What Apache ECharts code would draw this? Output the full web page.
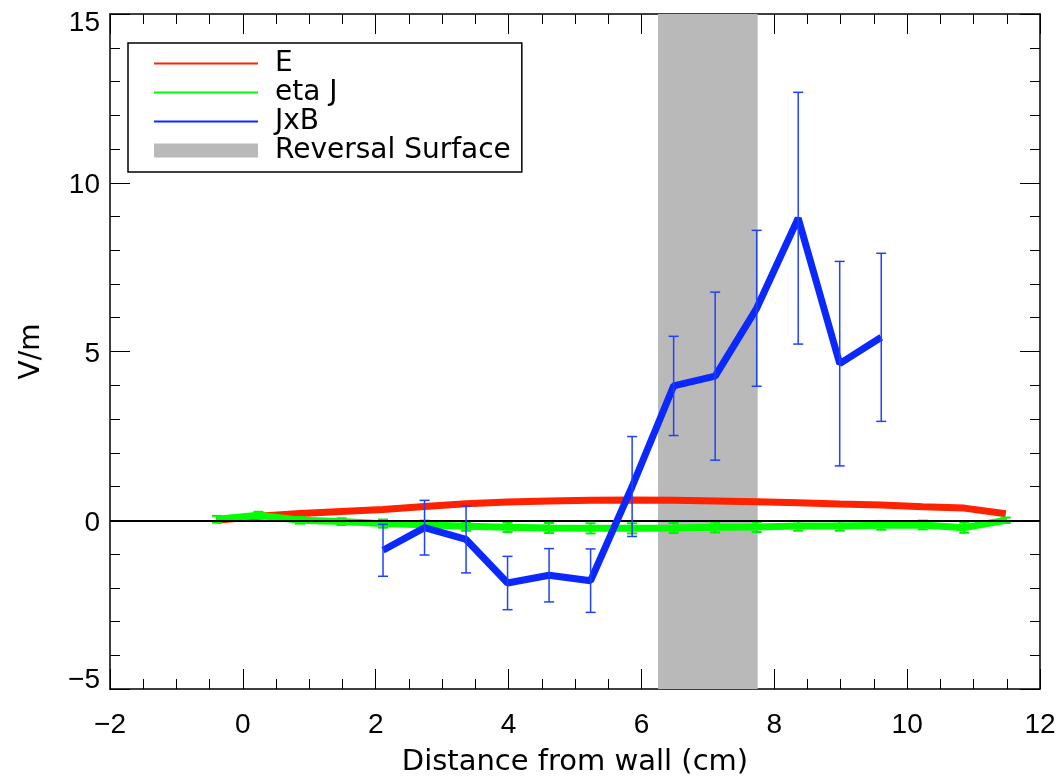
<!DOCTYPE html>
<html>
<head>
<meta charset="utf-8">
<script src="https://cdn.jsdelivr.net/npm/echarts@6/dist/echarts.min.js"></script>
<style>html,body{margin:0;padding:0;background:#fff}#c{width:1059px;height:778px}</style>
</head>
<body>
<div id="c"></div>
<script>
// ---- data ----
const xPos = [-0.39, 0.235, 0.86, 1.485, 2.11, 2.735, 3.36, 3.985, 4.61, 5.235, 5.86, 6.485, 7.11, 7.735, 8.36, 8.985, 9.61, 10.235, 10.86, 11.485];
const eField = [0.0, 0.12, 0.2, 0.26, 0.32, 0.41, 0.49, 0.54, 0.57, 0.59, 0.6, 0.59, 0.57, 0.55, 0.52, 0.48, 0.45, 0.40, 0.36, 0.19];
const etaJ = [0.03, 0.15, 0.0, -0.04, -0.1, -0.13, -0.18, -0.21, -0.23, -0.24, -0.24, -0.23, -0.21, -0.2, -0.17, -0.17, -0.15, -0.14, -0.22, 0.0];
const etaJErr = [0.1, 0.1, 0.1, 0.1, 0.12, 0.12, 0.13, 0.14, 0.15, 0.15, 0.15, 0.15, 0.15, 0.15, 0.14, 0.14, 0.13, 0.13, 0.15, 0.08];
const jxbX = [2.11, 2.735, 3.36, 3.985, 4.61, 5.235, 5.86, 6.485, 7.11, 7.735, 8.36, 8.985, 9.61];
const jxb = [-0.89, -0.22, -0.57, -1.86, -1.63, -1.79, 1.0, 3.98, 4.27, 6.28, 8.95, 4.64, 5.42];
const jxbErr = [0.77, 0.81, 0.99, 0.79, 0.79, 0.94, 1.48, 1.47, 2.49, 2.31, 3.73, 3.03, 2.49];
const reversal = [6.25, 7.75];
const xTicks = {min: -2, max: 12, interval: 2};
const yTicks = {min: -5, max: 15, interval: 5};

const FONT = "'DejaVu Sans'";
const DIGITS = "'Liberation Sans'";
const minus = v => String(v).replace('-', '\u2212');

const ePts = xPos.map((x, i) => [x, eField[i]]);
const gPts = xPos.map((x, i) => [x, etaJ[i]]);
const gErr = xPos.map((x, i) => [x, etaJ[i] - etaJErr[i], etaJ[i] + etaJErr[i]]);
const bPts = jxbX.map((x, i) => [x, jxb[i]]);
const bErr = jxbX.map((x, i) => [x, jxb[i] - jxbErr[i], jxb[i] + jxbErr[i]]);

function errRender(color, w) {
  return function (params, api) {
    const x = api.value(0), lo = api.value(1), hi = api.value(2);
    const p1 = api.coord([x, lo]), p2 = api.coord([x, hi]);
    const hw = 5;
    const st = {stroke: color, lineWidth: w};
    return {type: 'group', children: [
      {type: 'line', shape: {x1: p1[0], y1: p1[1], x2: p2[0], y2: p2[1]}, style: st},
      {type: 'line', shape: {x1: p1[0] - hw, y1: p1[1], x2: p1[0] + hw, y2: p1[1]}, style: st},
      {type: 'line', shape: {x1: p2[0] - hw, y1: p2[1], x2: p2[0] + hw, y2: p2[1]}, style: st}
    ]};
  };
}

const axisLine = {onZero: false, lineStyle: {color: '#000', width: 1.5}};
const axisTick = {inside: true, length: 20, lineStyle: {color: '#000', width: 1}};
const minorTick = n => ({show: true, splitNumber: n, length: 10, lineStyle: {color: '#000', width: 1}});

// y labels: IDL nudges the end labels inward
function yFmt(v) {
  const s = minus(v);
  if (v === yTicks.max) return '{dn|' + s + '}';
  if (v === yTicks.min) return '{up|' + s + '}';
  return '{mid|' + s + '}';
}
const digitStyle = {color: '#000', fontFamily: DIGITS, fontSize: 28};

const chart = echarts.init(document.getElementById('c'));
chart.setOption({
  animation: false,
  backgroundColor: '#fff',
  grid: {left: 110, right: 19, top: 14, bottom: 89, containLabel: false, outerBoundsMode: 'none'},
  legend: {
    left: 128, top: 43, orient: 'vertical',
    backgroundColor: '#fff', borderColor: '#000', borderWidth: 1.5,
    padding: [6, 11, 7, 26],
    itemWidth: 104, itemHeight: 14, itemGap: 0,
    itemStyle: {borderWidth: 0},
    textStyle: {color: '#000', fontFamily: FONT, fontSize: 28, lineHeight: 29, padding: [0, 0, 0, 12]},
    data: [
      {name: 'E', icon: 'path://M0,0H104V2H0Z'},
      {name: 'eta J', icon: 'path://M0,0H104V2H0Z'},
      {name: 'JxB', icon: 'path://M0,0H104V2H0Z'},
      {name: 'Reversal Surface', icon: 'path://M0,0H104V14H0Z'}
    ]
  },
  xAxis: [
    {type: 'value', position: 'bottom', min: xTicks.min, max: xTicks.max, interval: xTicks.interval,
      axisLine, axisTick, minorTick: minorTick(4), splitLine: {show: false},
      axisLabel: Object.assign({margin: 22, formatter: minus}, digitStyle),
      name: 'Distance from wall (cm)', nameLocation: 'middle', nameGap: 59,
      nameTextStyle: {color: '#000', fontFamily: FONT, fontSize: 29}},
    {type: 'value', position: 'top', min: xTicks.min, max: xTicks.max, interval: xTicks.interval,
      axisLine, axisTick, minorTick: minorTick(4), splitLine: {show: false}, axisLabel: {show: false}}
  ],
  yAxis: [
    {type: 'value', position: 'left', min: yTicks.min, max: yTicks.max, interval: yTicks.interval,
      axisLine, axisTick, minorTick: minorTick(5), splitLine: {show: false},
      axisLabel: Object.assign({margin: 10, formatter: yFmt, rich: {
        dn: Object.assign({padding: [18, 0, 0, 0]}, digitStyle),
        up: Object.assign({padding: [0, 0, 18, 0]}, digitStyle),
        mid: Object.assign({padding: [6, 0, 0, 0]}, digitStyle)
      }}, digitStyle),
      name: 'V/m', nameLocation: 'middle', nameGap: 64, nameRotate: 90,
      nameTextStyle: {color: '#000', fontFamily: FONT, fontSize: 28}},
    {type: 'value', position: 'right', min: yTicks.min, max: yTicks.max, interval: yTicks.interval,
      axisLine, axisTick, minorTick: minorTick(5), splitLine: {show: false}, axisLabel: {show: false}}
  ],
  series: [
    {name: 'Reversal Surface', type: 'line', data: [], z: 1, color: '#b9b9b9',
      markArea: {silent: true, itemStyle: {color: '#b9b9b9', opacity: 1},
        data: [[{xAxis: reversal[0]}, {xAxis: reversal[1]}]]}},
    {name: 'zero', type: 'line', data: [], z: 2,
      markLine: {silent: true, symbol: ['none', 'none'], label: {show: false},
        lineStyle: {color: '#000', width: 2, type: 'solid'}, data: [{yAxis: 0}]}},
    {name: 'E', type: 'line', data: ePts, z: 3, color: '#ff2200', showSymbol: false, symbol: 'none',
      lineStyle: {width: 7, color: '#ff2200'}},
    {name: 'etaJerr', type: 'custom', data: gErr, z: 4, renderItem: errRender('#00ee00', 2),
      encode: {x: 0, y: [1, 2]}},
    {name: 'eta J', type: 'line', data: gPts, z: 4, color: '#00ff00', showSymbol: false, symbol: 'none',
      lineStyle: {width: 7, color: '#00ff00'}},
    {name: 'JxB', type: 'line', data: bPts, z: 5, color: '#0a28ff', showSymbol: false, symbol: 'none',
      lineStyle: {width: 7, color: '#0a28ff'}},
    {name: 'jxbErr', type: 'custom', data: bErr, z: 6, renderItem: errRender('#2040ff', 1.5),
      encode: {x: 0, y: [1, 2]}}
  ]
});
</script>
</body>
</html>
